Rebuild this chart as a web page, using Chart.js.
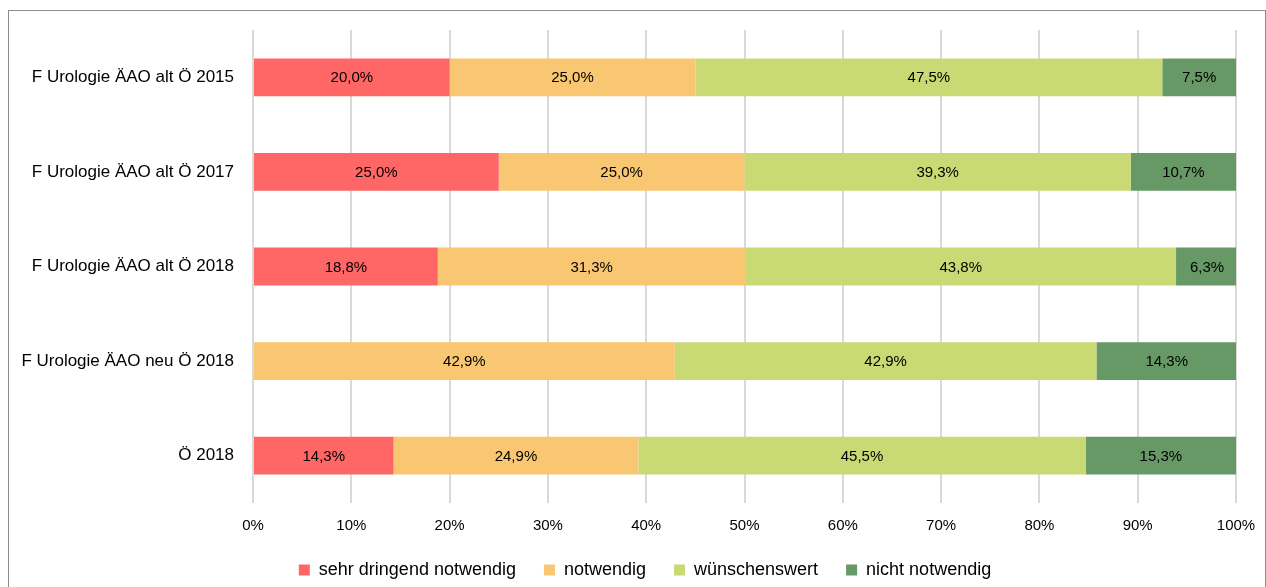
<!DOCTYPE html>
<html>
<head>
<meta charset="utf-8">
<script src="https://cdn.jsdelivr.net/npm/chart.js@4"></script>
<style>
  html, body { margin: 0; padding: 0; background: #fff; }
  #wrap { position: relative; width: 1266px; height: 587px; overflow: hidden; }
  #frame { position: absolute; left: 8px; top: 10px; width: 1256px; height: 600px; border: 1px solid #8c8c8c; }
  #chart { position: absolute; left: 0; top: 0; }
</style>
</head>
<body>
<div id="wrap">
  <div id="frame"></div>
  <canvas id="chart" width="1266" height="587"></canvas>
</div>
<script>
const categories = [
  'F Urologie ÄAO alt Ö 2015',
  'F Urologie ÄAO alt Ö 2017',
  'F Urologie ÄAO alt Ö 2018',
  'F Urologie ÄAO neu Ö 2018',
  'Ö 2018'
];
const sehrDringend = [20.0, 25.0, 18.8, 0, 14.3];
const notwendig = [25.0, 25.0, 31.3, 42.9, 24.9];
const wuenschenswert = [47.5, 39.3, 43.8, 42.9, 45.5];
const nichtNotwendig = [7.5, 10.7, 6.3, 14.3, 15.3];
const seriesNames = ['sehr dringend notwendig', 'notwendig', 'wünschenswert', 'nicht notwendig'];
const xTicks = [0, 10, 20, 30, 40, 50, 60, 70, 80, 90, 100];

const colors = ['#FF6666', '#F9C672', '#C9DA74', '#669966'];
const fontFamily = '"Liberation Sans", Arial, sans-serif';
const plotBottom = 503;

// Werte mittig in die Balken schreiben
const barLabels = {
  id: 'barLabels',
  afterDatasetsDraw(chart) {
    const ctx = chart.ctx;
    ctx.save();
    ctx.font = '15px ' + fontFamily;
    ctx.fillStyle = '#000';
    ctx.textAlign = 'center';
    ctx.textBaseline = 'middle';
    chart.data.datasets.forEach((ds, i) => {
      chart.getDatasetMeta(i).data.forEach((bar, j) => {
        const v = ds.data[j];
        if (!v) return;
        const x = (bar.x + bar.base) / 2;
        ctx.fillText(v.toFixed(1).replace('.', ',') + '%', x, bar.y + 1);
      });
    });
    ctx.restore();
  }
};

// Legende etwas nach rechts / unten schieben (wie im Original)
const legendShift = {
  id: 'legendShift',
  afterLayout(chart) {
    const lg = chart.legend;
    lg.left += 27; lg.right += 27;
    lg.top += 2; lg.bottom += 2;
  }
};

new Chart(document.getElementById('chart'), {
  type: 'bar',
  data: {
    labels: categories,
    datasets: [sehrDringend, notwendig, wuenschenswert, nichtNotwendig].map((d, i) => ({
      label: seriesNames[i],
      data: d,
      backgroundColor: colors[i],
      borderWidth: 0,
      barPercentage: 0.8,
      categoryPercentage: 0.5
    }))
  },
  options: {
    indexAxis: 'y',
    responsive: false,
    animation: false,
    layout: { padding: { top: 30, right: 30, left: 0, bottom: 0 } },
    scales: {
      x: {
        stacked: true,
        min: 0,
        max: 100,
        afterBuildTicks: scale => { scale.ticks = xTicks.map(v => ({ value: v })); },
        afterFit: scale => {
          // Plotbereich unten auf plotBottom festlegen
          const lg = scale.chart.legend;
          scale.height = 587 - lg.height - plotBottom;
          scale.paddingRight = 0;
        },
        grid: { color: '#D9D9D9', lineWidth: 2, drawTicks: false },
        border: { display: false },
        ticks: {
          color: '#000',
          font: { family: fontFamily, size: 15 },
          padding: 14,
          callback: v => v + '%'
        }
      },
      y: {
        stacked: true,
        grid: { display: false },
        border: { display: false },
        afterFit: scale => { scale.width = 253; },
        ticks: {
          color: '#000',
          font: { family: fontFamily, size: 17 },
          padding: 11
        }
      }
    },
    plugins: {
      legend: {
        position: 'bottom',
        labels: {
          boxWidth: 11,
          boxHeight: 11,
          padding: 28,
          color: '#000',
          font: { family: fontFamily, size: 18 }
        }
      },
      tooltip: { enabled: false }
    }
  },
  plugins: [barLabels, legendShift]
});
</script>
</body>
</html>
